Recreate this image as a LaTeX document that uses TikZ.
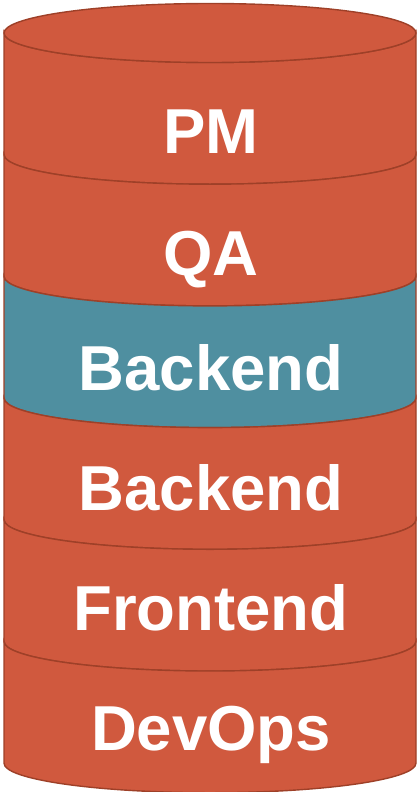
\documentclass[tikz,border=0pt]{standalone}
\usepackage{fontspec}
\setmainfont{Liberation Sans}
\usetikzlibrary{positioning}

\definecolor{layerred}{RGB}{208,89,62}
\definecolor{layerblue}{RGB}{79,143,160}
\definecolor{rimred}{RGB}{158,64,40}

\tikzset{
  layer/.style={draw=rimred,line width=1.4pt},
  tag/.style={text=white,inner sep=0pt,anchor=base,font=\bfseries\fontsize{63.5}{63.5}\selectfont}
}

\begin{document}
\begin{tikzpicture}[x=1pt,y=1pt]
\useasboundingbox (0,0) rectangle (418,-792);

% slices, top to bottom
\foreach \i/\col/\base/\txt in {0/layerred/153/PM,1/layerred/275/QA,2/layerblue/390/Backend,3/layerred/510/Backend,4/layerred/630/Frontend,5/layerred/750/DevOps}{
  \pgfmathsetmacro\ytop{-33-121.7*\i}
  \pgfmathsetmacro\ybot{\ytop-121.7}
  \filldraw[layer,fill=\col] (4,\ytop) -- (4,\ybot)
    arc[start angle=180,end angle=360,x radius=206,y radius=29.5]
    -- (416,\ytop)
    arc[start angle=360,end angle=180,x radius=206,y radius=29.5] -- cycle;
  \node[tag] (slice\i) at (211,-\base) {\txt};
}

% lid
\filldraw[layer,fill=layerred] (210,-33) ellipse [x radius=206,y radius=29.5];

\end{tikzpicture}
\end{document}
